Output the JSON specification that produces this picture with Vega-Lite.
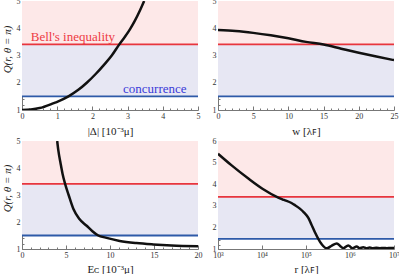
{
  "$schema": "https://vega.github.io/schema/vega-lite/v6.json",
  "padding": {"left": 1, "top": -3, "right": 0, "bottom": 0},
  "background": "white",
  "columns": 2,
  "spacing": {"row": 31, "column": 20},
  "bounds": "flush",
  "config": {
    "view": {"stroke": null},
    "axis": {
      "grid": false,
      "domainColor": "#777777",
      "domainWidth": 1,
      "tickColor": "#777777",
      "labelFont": "Liberation Serif",
      "labelFontSize": 8,
      "labelColor": "#333333",
      "labelPadding": 6,
      "labelFlush": false,
      "labelOverlap": false,
      "titleFont": "Liberation Serif",
      "titleFontSize": 11,
      "titleFontWeight": "normal",
      "titleColor": "#222222"
    }
  },
  "concat": [
    {
      "width": 176,
      "height": 109,
      "resolve": {"axis": {"x": "independent", "y": "independent"}},
      "layer": [
        {
          "data": {"values": [{"x0": 0, "x1": 5, "lo": 3.41, "hi": 5}]},
          "mark": {"type": "rect", "color": "#fde8e8"},
          "encoding": {
            "x": {"field": "x0", "type": "quantitative", "scale": {"domain": [0, 5], "nice": false},
              "axis": {"orient": "bottom", "title": null, "labels": false, "domain": false, "tickSize": -2, "values": [0.2,0.4,0.6,0.8,1.2,1.4,1.6,1.8,2.2,2.4,2.6,2.8,3.2,3.4,3.6,3.8,4.2,4.4,4.6,4.8]}},
            "x2": {"field": "x1"},
            "y": {"field": "lo", "type": "quantitative", "scale": {"domain": [1, 5], "nice": false},
              "axis": {"orient": "left", "title": null, "labels": false, "domain": false, "tickSize": -2, "values": [1.2,1.4,1.6,1.8,2.2,2.4,2.6,2.8,3.2,3.4,3.6,3.8,4.2,4.4,4.6,4.8]}},
            "y2": {"field": "hi"}
          }
        },
        {
          "data": {"values": [{"x0": 0, "x1": 5, "lo": 1.5, "hi": 3.41}]},
          "mark": {"type": "rect", "color": "#e7e7f3"},
          "encoding": {
            "x": {"field": "x0", "type": "quantitative", "axis": null},
            "x2": {"field": "x1"},
            "y": {"field": "lo", "type": "quantitative", "axis": null},
            "y2": {"field": "hi"}
          }
        },
        {
          "data": {"values": [{"q": 3.41}]},
          "mark": {"type": "rule", "color": "#e8353d", "strokeWidth": 1.8},
          "encoding": {"y": {"field": "q", "type": "quantitative", "axis": null}}
        },
        {
          "data": {"values": [{"q": 1.5}]},
          "mark": {"type": "rule", "color": "#2e5aa8", "strokeWidth": 1.8},
          "encoding": {"y": {"field": "q", "type": "quantitative", "axis": null}}
        },
        {
          "data": {"values": [{"x": 0.25, "q": 3.53, "t": "Bell's inequality"}, {"x": 2.87, "q": 1.62, "t": "concurrence"}]},
          "mark": {"type": "text", "font": "Liberation Serif", "fontSize": 13, "align": "left", "baseline": "alphabetic"},
          "encoding": {
            "x": {"field": "x", "type": "quantitative", "axis": null},
            "y": {"field": "q", "type": "quantitative", "axis": null},
            "text": {"field": "t"},
            "color": {"field": "t", "type": "nominal", "scale": {"domain": ["Bell's inequality", "concurrence"], "range": ["#ee3a44", "#3a3ad8"]}, "legend": null}
          }
        },
        {
          "data": {"values": [
            {"x": 0, "q": 1.0}, {"x": 0.25, "q": 1.02}, {"x": 0.5, "q": 1.07}, {"x": 0.9, "q": 1.25},
            {"x": 1.0, "q": 1.3}, {"x": 1.32, "q": 1.5}, {"x": 1.6, "q": 1.74}, {"x": 1.84, "q": 2.0},
            {"x": 2.1, "q": 2.33}, {"x": 2.31, "q": 2.63}, {"x": 2.55, "q": 3.0}, {"x": 2.76, "q": 3.4},
            {"x": 2.92, "q": 3.68}, {"x": 3.07, "q": 3.97}, {"x": 3.2, "q": 4.26}, {"x": 3.35, "q": 4.65},
            {"x": 3.47, "q": 5.0}
          ]},
          "mark": {"type": "line", "color": "#111111", "strokeWidth": 2.5, "interpolate": "monotone", "clip": true},
          "encoding": {
            "x": {"field": "x", "type": "quantitative",
              "axis": {"orient": "bottom", "title": "|Δ| [10⁻³μ]", "values": [0,1,2,3,4,5], "tickSize": -4, "titlePadding": 5}},
            "y": {"field": "q", "type": "quantitative",
              "axis": {"orient": "left", "title": "Q(r, θ = π)", "titleFontStyle": "italic", "titleY": 48, "values": [1,2,3,4,5], "tickSize": -4, "titlePadding": 4}}
          }
        }
      ]
    },
    {
      "width": 176,
      "height": 109,
      "resolve": {"axis": {"x": "independent", "y": "independent"}},
      "layer": [
        {
          "data": {"values": [{"x0": 0, "x1": 25, "lo": 3.41, "hi": 5}]},
          "mark": {"type": "rect", "color": "#fde8e8"},
          "encoding": {
            "x": {"field": "x0", "type": "quantitative", "scale": {"domain": [0, 25], "nice": false},
              "axis": {"orient": "bottom", "title": null, "labels": false, "domain": false, "tickSize": -2, "values": [1,2,3,4,6,7,8,9,11,12,13,14,16,17,18,19,21,22,23,24]}},
            "x2": {"field": "x1"},
            "y": {"field": "lo", "type": "quantitative", "scale": {"domain": [1, 5], "nice": false},
              "axis": {"orient": "left", "title": null, "labels": false, "domain": false, "tickSize": -2, "values": [1.2,1.4,1.6,1.8,2.2,2.4,2.6,2.8,3.2,3.4,3.6,3.8,4.2,4.4,4.6,4.8]}},
            "y2": {"field": "hi"}
          }
        },
        {
          "data": {"values": [{"x0": 0, "x1": 25, "lo": 1.5, "hi": 3.41}]},
          "mark": {"type": "rect", "color": "#e7e7f3"},
          "encoding": {
            "x": {"field": "x0", "type": "quantitative", "axis": null},
            "x2": {"field": "x1"},
            "y": {"field": "lo", "type": "quantitative", "axis": null},
            "y2": {"field": "hi"}
          }
        },
        {
          "data": {"values": [{"q": 3.41}]},
          "mark": {"type": "rule", "color": "#e8353d", "strokeWidth": 1.8},
          "encoding": {"y": {"field": "q", "type": "quantitative", "axis": null}}
        },
        {
          "data": {"values": [{"q": 1.5}]},
          "mark": {"type": "rule", "color": "#2e5aa8", "strokeWidth": 1.8},
          "encoding": {"y": {"field": "q", "type": "quantitative", "axis": null}}
        },
        {
          "data": {"values": [
            {"x": 0, "q": 3.94}, {"x": 2.5, "q": 3.9}, {"x": 5, "q": 3.83}, {"x": 7.5, "q": 3.74},
            {"x": 10, "q": 3.63}, {"x": 12.5, "q": 3.5}, {"x": 15, "q": 3.4}, {"x": 17.5, "q": 3.25},
            {"x": 20, "q": 3.1}, {"x": 22.5, "q": 2.96}, {"x": 25, "q": 2.83}
          ]},
          "mark": {"type": "line", "color": "#111111", "strokeWidth": 2.5, "interpolate": "monotone", "clip": true},
          "encoding": {
            "x": {"field": "x", "type": "quantitative",
              "axis": {"orient": "bottom", "title": "w [λꜰ]", "values": [0,5,10,15,20,25], "tickSize": -4, "titlePadding": 5}},
            "y": {"field": "q", "type": "quantitative",
              "axis": {"orient": "left", "title": null, "values": [1,2,3,4,5], "tickSize": -4}}
          }
        }
      ]
    },
    {
      "width": 176,
      "height": 108,
      "resolve": {"axis": {"x": "independent", "y": "independent"}},
      "layer": [
        {
          "data": {"values": [{"x0": 0, "x1": 20, "lo": 3.41, "hi": 5}]},
          "mark": {"type": "rect", "color": "#fde8e8"},
          "encoding": {
            "x": {"field": "x0", "type": "quantitative", "scale": {"domain": [0, 20], "nice": false},
              "axis": {"orient": "bottom", "title": null, "labels": false, "domain": false, "tickSize": -2, "values": [1,2,3,4,6,7,8,9,11,12,13,14,16,17,18,19]}},
            "x2": {"field": "x1"},
            "y": {"field": "lo", "type": "quantitative", "scale": {"domain": [1, 5], "nice": false},
              "axis": {"orient": "left", "title": null, "labels": false, "domain": false, "tickSize": -2, "values": [1.2,1.4,1.6,1.8,2.2,2.4,2.6,2.8,3.2,3.4,3.6,3.8,4.2,4.4,4.6,4.8]}},
            "y2": {"field": "hi"}
          }
        },
        {
          "data": {"values": [{"x0": 0, "x1": 20, "lo": 1.5, "hi": 3.41}]},
          "mark": {"type": "rect", "color": "#e7e7f3"},
          "encoding": {
            "x": {"field": "x0", "type": "quantitative", "axis": null},
            "x2": {"field": "x1"},
            "y": {"field": "lo", "type": "quantitative", "axis": null},
            "y2": {"field": "hi"}
          }
        },
        {
          "data": {"values": [{"q": 3.41}]},
          "mark": {"type": "rule", "color": "#e8353d", "strokeWidth": 1.8},
          "encoding": {"y": {"field": "q", "type": "quantitative", "axis": null}}
        },
        {
          "data": {"values": [{"q": 1.5}]},
          "mark": {"type": "rule", "color": "#2e5aa8", "strokeWidth": 1.8},
          "encoding": {"y": {"field": "q", "type": "quantitative", "axis": null}}
        },
        {
          "data": {"values": [
            {"x": 4.0, "q": 5.0}, {"x": 4.13, "q": 4.65}, {"x": 4.39, "q": 4.16}, {"x": 4.6, "q": 3.8},
            {"x": 4.89, "q": 3.42}, {"x": 5.3, "q": 3.0}, {"x": 5.83, "q": 2.49}, {"x": 6.5, "q": 2.12},
            {"x": 7.35, "q": 1.86}, {"x": 8.0, "q": 1.66}, {"x": 8.67, "q": 1.5}, {"x": 9.5, "q": 1.42},
            {"x": 11.1, "q": 1.3}, {"x": 13, "q": 1.22}, {"x": 14.9, "q": 1.17}, {"x": 17, "q": 1.13},
            {"x": 20, "q": 1.1}
          ]},
          "mark": {"type": "line", "color": "#111111", "strokeWidth": 2.5, "interpolate": "monotone", "clip": true},
          "encoding": {
            "x": {"field": "x", "type": "quantitative",
              "axis": {"orient": "bottom", "title": "Eᴄ [10⁻³μ]", "values": [0,5,10,15,20], "tickSize": -4, "titlePadding": 4}},
            "y": {"field": "q", "type": "quantitative",
              "axis": {"orient": "left", "title": "Q(r, θ = π)", "titleFontStyle": "italic", "titleY": 47, "values": [1,2,3,4,5], "tickSize": -4, "titlePadding": 4}}
          }
        }
      ]
    },
    {
      "width": 176,
      "height": 108,
      "resolve": {"axis": {"x": "independent", "y": "independent"}},
      "layer": [
        {
          "data": {"values": [{"x0": 1000, "x1": 10000000, "lo": 3.41, "hi": 6}]},
          "mark": {"type": "rect", "color": "#fde8e8"},
          "encoding": {
            "x": {"field": "x0", "type": "quantitative", "scale": {"type": "log", "domain": [1000, 10000000], "nice": false}, "axis": null},
            "x2": {"field": "x1"},
            "y": {"field": "lo", "type": "quantitative", "scale": {"domain": [1, 6], "nice": false},
              "axis": {"orient": "left", "title": null, "labels": false, "domain": false, "tickSize": -2, "values": [1.2,1.4,1.6,1.8,2.2,2.4,2.6,2.8,3.2,3.4,3.6,3.8,4.2,4.4,4.6,4.8,5.2,5.4,5.6,5.8]}},
            "y2": {"field": "hi"}
          }
        },
        {
          "data": {"values": [{"x0": 1000, "x1": 10000000, "lo": 1.5, "hi": 3.41}]},
          "mark": {"type": "rect", "color": "#e7e7f3"},
          "encoding": {
            "x": {"field": "x0", "type": "quantitative", "axis": null},
            "x2": {"field": "x1"},
            "y": {"field": "lo", "type": "quantitative", "axis": null},
            "y2": {"field": "hi"}
          }
        },
        {
          "data": {"values": [{"q": 3.41}]},
          "mark": {"type": "rule", "color": "#e8353d", "strokeWidth": 1.8},
          "encoding": {"y": {"field": "q", "type": "quantitative", "axis": null}}
        },
        {
          "data": {"values": [{"q": 1.47}]},
          "mark": {"type": "rule", "color": "#2e5aa8", "strokeWidth": 1.8},
          "encoding": {"y": {"field": "q", "type": "quantitative", "axis": null}}
        },
        {
          "data": {"values": [
            {"r": 1000, "q": 5.41}, {"r": 2042, "q": 4.87}, {"r": 4898, "q": 4.26}, {"r": 10233, "q": 3.79},
            {"r": 23442, "q": 3.38}, {"r": 31623, "q": 3.27}, {"r": 46774, "q": 3.13}, {"r": 56234, "q": 3.03},
            {"r": 72444, "q": 2.87}, {"r": 89125, "q": 2.7}, {"r": 112202, "q": 2.45}, {"r": 131826, "q": 2.15},
            {"r": 158489, "q": 1.79}, {"r": 223872, "q": 1.24}, {"r": 295121, "q": 1.03}, {"r": 380189, "q": 1.15},
            {"r": 501187, "q": 1.26}, {"r": 602560, "q": 1.13}, {"r": 707946, "q": 1.04}, {"r": 912011, "q": 1.16},
            {"r": 1148154, "q": 1.04}, {"r": 1412538, "q": 1.11}, {"r": 1659587, "q": 1.04}, {"r": 1995262, "q": 1.08},
            {"r": 2344229, "q": 1.04}, {"r": 2818383, "q": 1.065}, {"r": 3311311, "q": 1.04}, {"r": 3981072, "q": 1.055},
            {"r": 4786301, "q": 1.04}, {"r": 5754399, "q": 1.05}, {"r": 6918310, "q": 1.04}, {"r": 8317638, "q": 1.048},
            {"r": 10000000, "q": 1.045}
          ]},
          "mark": {"type": "line", "color": "#111111", "strokeWidth": 2.5, "interpolate": "monotone", "clip": true},
          "encoding": {
            "x": {"field": "r", "type": "quantitative",
              "axis": {"orient": "bottom", "title": "r [λꜰ]", "values": [1000, 10000, 100000, 1000000, 10000000], "tickSize": -4,
                "labelExpr": "datum.value == 1000 ? '10³' : datum.value == 10000 ? '10⁴' : datum.value == 100000 ? '10⁵' : datum.value == 1000000 ? '10⁶' : '10⁷'", "titlePadding": 4}},
            "y": {"field": "q", "type": "quantitative",
              "axis": {"orient": "left", "title": null, "values": [1,2,3,4,5,6], "tickSize": -4}}
          }
        }
      ]
    }
  ]
}
